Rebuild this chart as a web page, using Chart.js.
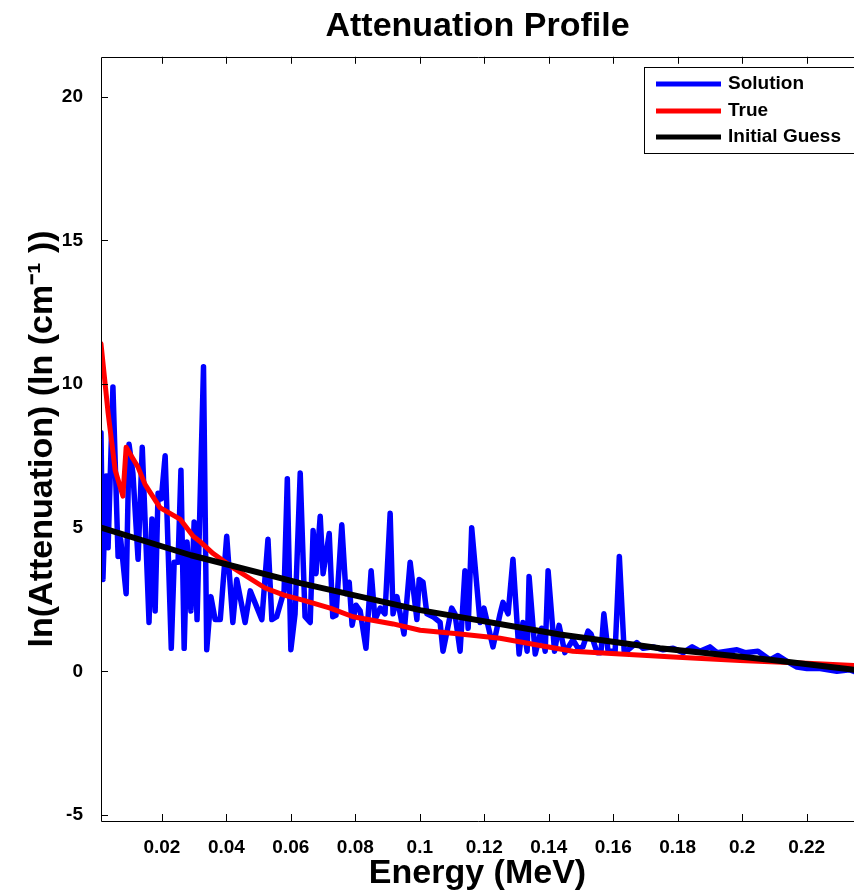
<!DOCTYPE html>
<html>
<head>
<meta charset="utf-8">
<title>Attenuation Profile</title>
<script src="https://cdn.jsdelivr.net/npm/chart.js@4.4.1/dist/chart.umd.min.js"></script>
<style>
  html, body { margin: 0; padding: 0; background: #fff; overflow: hidden; }
  #wrap { width: 854px; height: 891px; }
</style>
</head>
<body>
<div id="wrap"><canvas id="myChart" width="854" height="891"></canvas></div>
<script>
// Data
const xTicks = [0.02, 0.04, 0.06, 0.08, 0.1, 0.12, 0.14, 0.16, 0.18, 0.2, 0.22];
const yTicks = [-5, 0, 5, 10, 15, 20];

const solutionEnergy = [
    0.0011, 0.0017, 0.0027, 0.0033, 0.0048, 0.0064, 0.0072, 0.0089, 0.0098, 0.0110,
    0.0126, 0.0139, 0.0160, 0.0169, 0.0179, 0.0188, 0.0198, 0.0210, 0.0229, 0.0238,
    0.0250, 0.0259, 0.0269, 0.0278, 0.0290, 0.0300, 0.0309, 0.0329, 0.0339, 0.0352,
    0.0365, 0.0381, 0.0401, 0.0420, 0.0432, 0.0458, 0.0474, 0.0510, 0.0529, 0.0541,
    0.0556, 0.0579, 0.0589, 0.0600, 0.0613, 0.0629, 0.0644, 0.0660, 0.0669, 0.0678,
    0.0691, 0.0700, 0.0719, 0.0730, 0.0740, 0.0758, 0.0771, 0.0781, 0.0790, 0.0802,
    0.0815, 0.0833, 0.0849, 0.0861, 0.0877, 0.0892, 0.0908, 0.0917, 0.0929, 0.0951,
    0.0970, 0.0991, 0.0998, 0.1010, 0.1022, 0.1041, 0.1063, 0.1072, 0.1099, 0.1109,
    0.1125, 0.1140, 0.1150, 0.1161, 0.1187, 0.1199, 0.1227, 0.1249, 0.1258, 0.1274,
    0.1289, 0.1308, 0.1320, 0.1333, 0.1339, 0.1358, 0.1378, 0.1389, 0.1398, 0.1418,
    0.1432, 0.1450, 0.1475, 0.1491, 0.1506, 0.1522, 0.1531, 0.1550, 0.1562, 0.1571,
    0.1584, 0.1606, 0.1619, 0.1634, 0.1646, 0.1673, 0.1693, 0.1724, 0.1755, 0.1786,
    0.1817, 0.1845, 0.1869, 0.1900, 0.1922, 0.1953, 0.1984, 0.2009, 0.2049, 0.2086,
    0.2111, 0.2139, 0.2170, 0.2201, 0.2242, 0.2294, 0.2334, 0.2347
];
const solutionValue = [
    8.3, 3.2, 6.8, 4.3, 9.9, 4.0, 4.6, 2.7, 7.9, 6.9,
    3.9, 7.8, 1.7, 5.3, 2.1, 6.2, 6.0, 7.5, 0.8, 3.8,
    3.8, 7.0, 0.8, 4.5, 2.1, 5.2, 1.8, 10.6, 0.75, 2.6,
    1.8, 1.8, 4.7, 1.7, 3.2, 1.7, 2.8, 1.8, 4.6, 1.8,
    1.9, 2.8, 6.7, 0.75, 2.0, 6.9, 1.9, 1.7, 4.9, 3.4,
    5.4, 3.4, 4.8, 1.9, 1.95, 5.1, 2.7, 3.1, 1.6, 2.3,
    2.1, 0.8, 3.5, 1.8, 2.2, 2.0, 5.5, 2.0, 2.6, 1.3,
    3.8, 1.8, 3.2, 3.1, 2.0, 1.9, 1.7, 0.7, 2.2, 2.0,
    0.7, 3.5, 1.5, 5.0, 1.7, 2.2, 0.85, 2.0, 2.4, 2.0,
    3.9, 0.6, 1.7, 0.7, 3.3, 0.6, 1.5, 0.7, 3.5, 0.7,
    1.6, 0.65, 1.1, 0.8, 0.85, 1.4, 1.3, 0.65, 0.65, 2.0,
    0.7, 0.7, 4.0, 0.7, 0.75, 1.0, 0.8, 0.85, 0.75, 0.8,
    0.65, 0.85, 0.7, 0.85, 0.65, 0.7, 0.75, 0.65, 0.7, 0.4,
    0.55, 0.35, 0.15, 0.1, 0.1, 0.0, 0.05, 0.0
];

const trueEnergy = [
    0.0011, 0.0033, 0.0055, 0.0079, 0.0089, 0.0126, 0.0148, 0.0194, 0.0256, 0.0297,
    0.0320, 0.0359, 0.0421, 0.0520, 0.0579, 0.0640, 0.0722, 0.0793, 0.0917, 0.1001,
    0.1125, 0.1249, 0.1373, 0.1475, 0.1581, 0.1786, 0.1993, 0.2201, 0.2347
];
const trueValue = [
    11.4, 9.0, 7.0, 6.1, 7.8, 7.1, 6.5, 5.7, 5.3, 4.7,
    4.5, 4.1, 3.6, 2.9, 2.65, 2.47, 2.2, 1.9, 1.65, 1.43,
    1.3, 1.15, 0.9, 0.7, 0.63, 0.5, 0.38, 0.28, 0.2
];

const guessEnergy = [0.0011, 0.0290, 0.0629, 0.1001, 0.1435, 0.1745, 0.2086, 0.2347];
const guessValue = [5.0, 4.04, 3.07, 2.13, 1.28, 0.8, 0.4, 0.05];

function toPoints(xs, ys) {
    return xs.map((x, i) => ({ x: x, y: ys[i] }));
}

const FONT = "'Liberation Sans', Arial, Helvetica, sans-serif";

// box round the axes with MATLAB style inward ticks
const framePlugin = {
    id: 'frame',
    afterDraw(chart) {
        const ctx = chart.ctx;
        const a = chart.chartArea;
        const xs = chart.scales.x;
        const ys = chart.scales.y;
        ctx.save();
        ctx.strokeStyle = '#000';
        ctx.lineWidth = 1;
        ctx.beginPath();
        ctx.moveTo(a.right + 20, Math.round(a.top) + 0.5);
        ctx.lineTo(Math.round(a.left) + 0.5, Math.round(a.top) + 0.5);
        ctx.lineTo(Math.round(a.left) + 0.5, Math.round(a.bottom) + 0.5);
        ctx.lineTo(a.right + 20, Math.round(a.bottom) + 0.5);
        ctx.stroke();

        ctx.beginPath();
        xTicks.forEach(v => {
            const px = Math.round(xs.getPixelForValue(v)) + 0.5;
            ctx.moveTo(px, a.bottom);
            ctx.lineTo(px, a.bottom - 7);
            ctx.moveTo(px, a.top);
            ctx.lineTo(px, a.top + 7);
        });
        yTicks.forEach(v => {
            const py = Math.round(ys.getPixelForValue(v)) + 0.5;
            ctx.moveTo(a.left, py);
            ctx.lineTo(a.left + 7, py);
        });
        ctx.stroke();
        ctx.restore();
    }
};

// legend box inside the axes, top right
const boxLegendPlugin = {
    id: 'boxLegend',
    afterDraw(chart) {
        const ctx = chart.ctx;
        const left = 644, top = 67, bottom = 153;
        ctx.save();
        ctx.fillStyle = '#fff';
        ctx.fillRect(left, top, 240, bottom - top);
        ctx.strokeStyle = '#000';
        ctx.lineWidth = 1;
        ctx.strokeRect(left + 0.5, top + 0.5, 240, bottom - top);
        const rows = [84, 111, 137];
        chart.data.datasets.forEach((ds, i) => {
            ctx.strokeStyle = ds.borderColor;
            ctx.lineWidth = 5;
            ctx.beginPath();
            ctx.moveTo(656, rows[i]);
            ctx.lineTo(721, rows[i]);
            ctx.stroke();
            ctx.fillStyle = '#000';
            ctx.font = 'bold 19px ' + FONT;
            ctx.textBaseline = 'middle';
            ctx.fillText(ds.label, 728, rows[i]);
        });
        ctx.restore();
    }
};

const ctx = document.getElementById('myChart').getContext('2d');

const chart = new Chart(ctx, {
    type: 'line',
    data: {
        datasets: [{
            label: 'Solution',
            data: toPoints(solutionEnergy, solutionValue),
            borderColor: '#0000ff',
            borderWidth: 5.5,
            order: 3
        }, {
            label: 'True',
            data: toPoints(trueEnergy, trueValue),
            borderColor: '#ff0000',
            borderWidth: 5,
            order: 2
        }, {
            label: 'Initial Guess',
            data: toPoints(guessEnergy, guessValue),
            borderColor: '#000000',
            borderWidth: 6,
            order: 1
        }]
    },
    options: {
        responsive: false,
        animation: false,
        elements: {
            point: { radius: 0 },
            line: { tension: 0, borderJoinStyle: 'round', borderCapStyle: 'round', fill: false }
        },
        layout: { padding: 0 },
        plugins: {
            legend: { display: false },
            tooltip: { enabled: false },
            title: {
                display: true,
                text: 'Attenuation Profile',
                fullSize: false,
                color: '#000',
                font: { family: FONT, size: 34, weight: 'bold' },
                padding: { top: 6, bottom: 10 }
            }
        },
        scales: {
            x: {
                type: 'linear',
                min: 0.0011,
                max: 0.2347,
                grid: { display: false, drawTicks: false },
                border: { display: false },
                afterBuildTicks: s => { s.ticks = xTicks.map(v => ({ value: v })); },
                afterFit: s => { s.height = 70; },
                ticks: {
                    autoSkip: false,
                    maxRotation: 0,
                    padding: 15,
                    color: '#000',
                    font: { family: FONT, size: 19, weight: 'bold' },
                    callback: v => String(Number(v.toFixed(2)))
                },
                title: {
                    display: true,
                    text: 'Energy (MeV)',
                    color: '#000',
                    font: { family: FONT, size: 34, weight: 'bold' },
                    padding: { top: 0, bottom: -3 }
                }
            },
            y: {
                type: 'linear',
                min: -5.21,
                max: 21.39,
                grid: { display: false, drawTicks: false },
                border: { display: false },
                afterBuildTicks: s => { s.ticks = yTicks.map(v => ({ value: v })); },
                afterFit: s => { s.width = 101; },
                ticks: {
                    padding: 18,
                    color: '#000',
                    font: { family: FONT, size: 19, weight: 'bold' }
                },
                title: {
                    display: true,
                    text: 'ln(Attenuation) (ln (cm\u207B\u00B9 ))',
                    color: '#000',
                    font: { family: FONT, size: 34, weight: 'bold' },
                    padding: { top: 22, bottom: 0 }
                }
            }
        }
    },
    plugins: [framePlugin, boxLegendPlugin]
});
</script>
</body>
</html>
